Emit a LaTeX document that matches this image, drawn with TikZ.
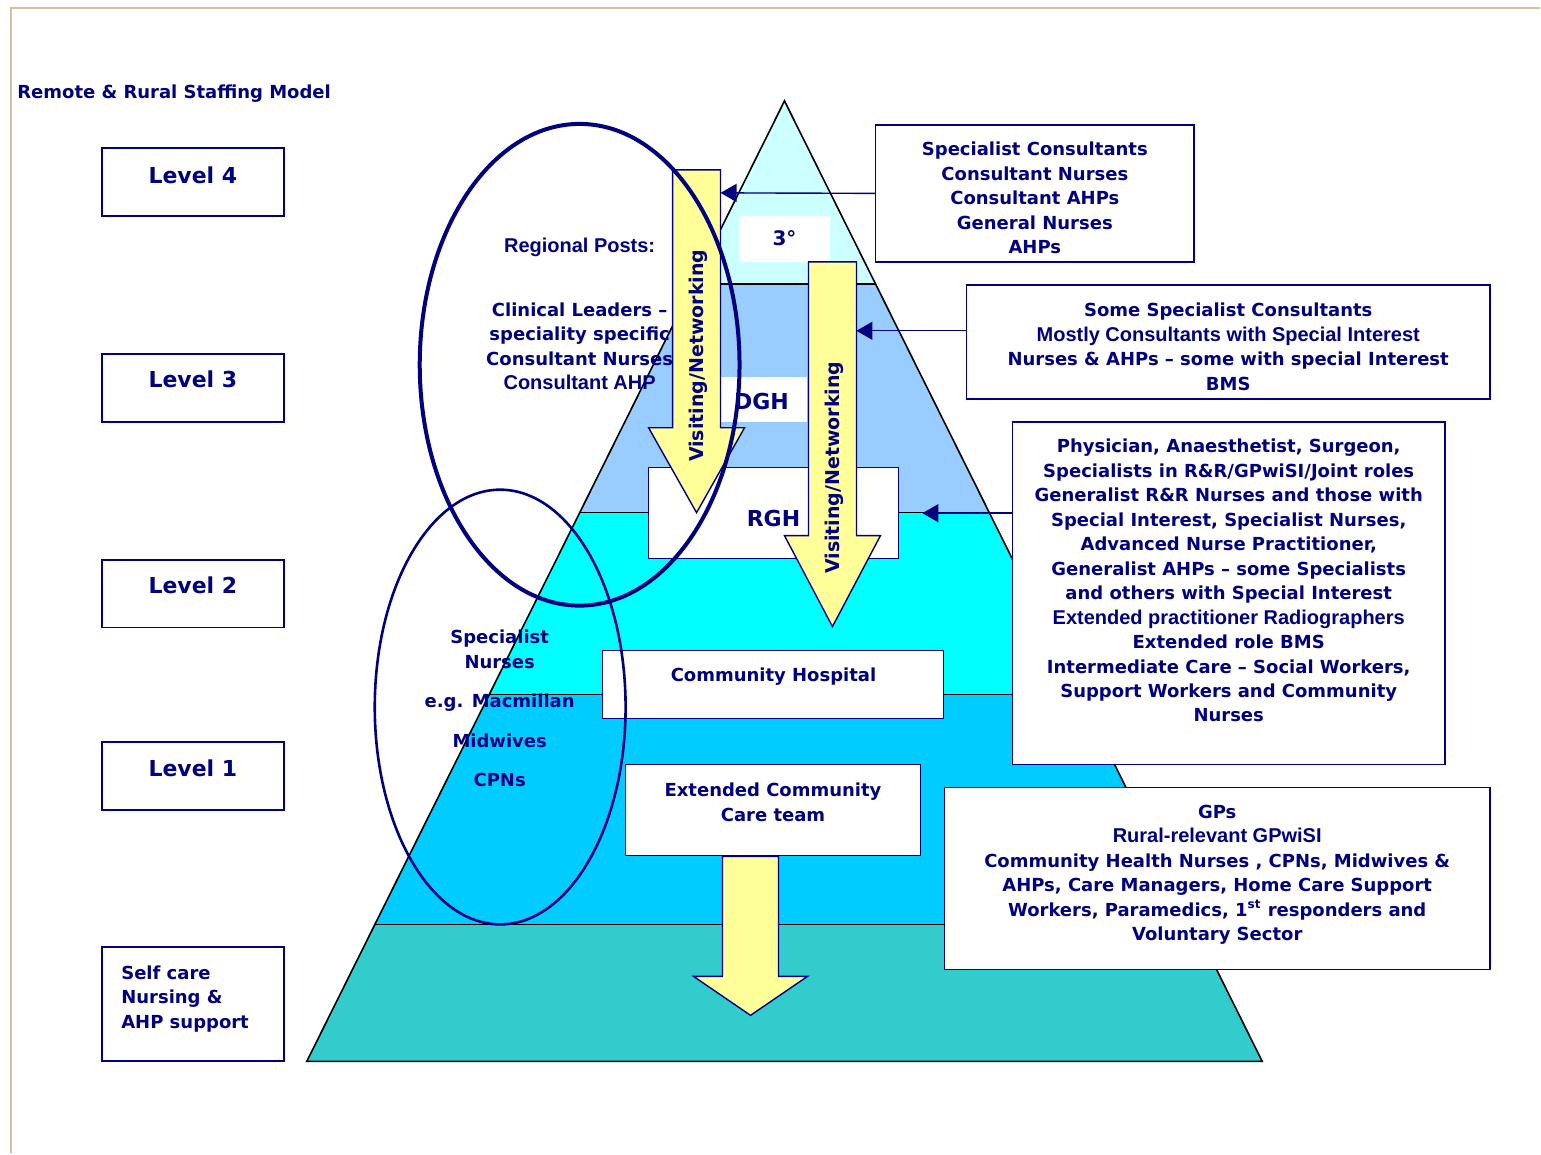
\documentclass[tikz,border=0pt]{standalone}
\usepackage{fontspec}
\setmainfont{DejaVu Sans}
\newfontfamily\arialfont{Liberation Sans}
\usetikzlibrary{arrows.meta}
\definecolor{navy}{RGB}{0,0,128}
\definecolor{framebeige}{RGB}{204,196,160}
\definecolor{bandone}{RGB}{204,255,255}
\definecolor{bandtwo}{RGB}{153,204,255}
\definecolor{bandthree}{RGB}{0,255,255}
\definecolor{bandfour}{RGB}{0,204,255}
\definecolor{bandfive}{RGB}{51,204,204}
\definecolor{paleyellow}{RGB}{255,255,153}
\begin{document}
\begin{tikzpicture}
        [x=0.5pt, y=-0.5pt,
        lvlbox/.style={draw=navy, line width=0.9pt, fill=white, minimum width=91pt, minimum height=34pt, inner sep=0pt, outer sep=0pt},
        infobox/.style={draw=navy, line width=0.8pt, fill=white, inner sep=0pt, outer sep=0pt},
        whitebox/.style={fill=white, inner sep=0pt, outer sep=0pt},
        txt/.style={text=navy, font=\bfseries\fontsize{9}{12.25}\selectfont, align=center, inner sep=0pt},
        arialtxt/.style={text=navy, font=\arialfont\bfseries\fontsize{10}{12.25}\selectfont, align=center, inner sep=0pt},
        bigtxt/.style={text=navy, font=\bfseries\fontsize{11}{13}\selectfont, inner sep=0pt},
        fatarrow/.style={draw=navy, line width=0.7pt, fill=paleyellow, line join=miter},
        conn/.style={draw=navy, line width=0.7pt, -{Triangle[length=8pt, width=9pt]}}]
        \path[fill=white] (0,0) rectangle (1541,1154);
        \draw[framebeige, line width=1pt] (11,1154) -- (11,8) -- (1541,8);
        \node[txt, anchor=west] (title) at (17,94) {Remote \& Rural Staffing Model};

        % pyramid
        \begin{scope}
            \clip (785,101) -- (1263,1062) -- (307,1062) -- cycle;
            \fill[bandone] (300,95) rectangle (1270,284);
            \fill[bandtwo] (300,284) rectangle (1270,513);
            \fill[bandthree] (300,513) rectangle (1270,695);
            \fill[bandfour] (300,695) rectangle (1270,925);
            \fill[bandfive] (300,925) rectangle (1270,1070);
            \draw[line width=0.8pt] (300,284) -- (1270,284);
            \draw[line width=0.8pt] (300,513) -- (1270,513);
            \draw[line width=0.8pt] (300,695) -- (1270,695);
            \draw[line width=0.8pt] (300,925) -- (1270,925);
        \end{scope}
        \draw[line width=0.8pt] (785,101) -- (1263,1062) -- (307,1062) -- cycle;

        \node[whitebox, minimum width=46pt, minimum height=23pt] (tert) at (785,239) {};
        \node[bigtxt, font=\bfseries\fontsize{10}{12}\selectfont] (terttxt) at (785,238) {3°};
        \node[whitebox, minimum width=44pt, minimum height=22.5pt] (dgh) at (764,400) {};
        \node[bigtxt] (dghtxt) at (762,402) {DGH};
        \node[infobox, minimum width=125pt, minimum height=45.5pt] (rgh) at (774,513.5) {};
        \node[bigtxt] (rghtxt) at (774,519) {RGH};
        \node[infobox, minimum width=170.5pt, minimum height=34pt] (commhosp) at (773.5,685) {};
        \node[txt] (commhosptxt) at (774,677) {Community Hospital};
        \node[infobox, minimum width=147.5pt, minimum height=45.5pt] (extcomm) at (773.5,810.5) {};
        \node[txt] (extcommtxt) at (773.5,803) {Extended Community\\Care team};

        % levels
        \node[lvlbox] (lvlfour) at (193,182) {};
        \node[bigtxt] (lvlfourtxt) at (193,175) {Level 4};
        \node[lvlbox] (lvlthree) at (193,388) {};
        \node[bigtxt] (lvlthreetxt) at (193,380) {Level 3};
        \node[lvlbox] (lvltwo) at (193,594) {};
        \node[bigtxt] (lvltwotxt) at (193,586) {Level 2};
        \node[lvlbox] (lvlone) at (193,776.5) {};
        \node[bigtxt] (lvlonetxt) at (193,769) {Level 1};
        \node[lvlbox, minimum height=57pt] (selfcare) at (193,1005) {};
        \node[txt, anchor=west, align=left] (selfcaretxt) at (121,999.5) {Self care\\Nursing \&\\AHP support};

        % staff boxes
        \node[infobox, minimum width=159.5pt, minimum height=68.5pt] (specA) at (1035.5,193.5) {};
        \node[txt] (specAtxt) at (1035.5,198) {Specialist Consultants\\Consultant Nurses\\Consultant AHPs\\General Nurses\\AHPs};
        \node[infobox, minimum width=262pt, minimum height=57pt] (specB) at (1229,342) {};
        \node[txt] (specBtxt) at (1229,347) {Some Specialist Consultants\\
            {\arialfont\fontsize{10}{12.25}\selectfont Mostly Consultants with Special Interest}\\
            Nurses \& AHPs – some with special Interest\\BMS};
        \node[infobox, minimum width=216.5pt, minimum height=171.5pt] (specC) at (1229.5,593.5) {};
        \node[txt] (specCtxt) at (1229.5,581) {Physician, Anaesthetist, Surgeon,\\
            Specialists in R\&R/GPwiSI/Joint roles\\
            Generalist R\&R Nurses and those with\\
            Special Interest, Specialist Nurses,\\
            Advanced Nurse Practitioner,\\
            Generalist AHPs – some Specialists\\
            and others with Special Interest\\
            {\arialfont\fontsize{10}{12.25}\selectfont Extended practitioner Radiographers}\hspace*{20pt}\\
            Extended role BMS\\
            Intermediate Care – Social Workers,\\
            Support Workers and Community\\
            Nurses};
        \node[infobox, minimum width=273pt, minimum height=91pt] (specD) at (1218,879) {};
        \node[txt] (specDtxt) at (1218,875.5) {GPs\\
            {\arialfont\fontsize{10}{12.25}\selectfont Rural-relevant GPwiSI}\\
            Community Health Nurses , CPNs, Midwives \&\\
            AHPs, Care Managers, Home Care Support\\
            Workers, Paramedics, 1\textsuperscript{st} responders and\\
            Voluntary Sector};

        % ellipse texts
        \node[arialtxt] (regional) at (580,248) {Regional Posts:};
        \node[txt] (clinical) at (580,346.5) {Clinical Leaders –\\speciality specific\\Consultant Nurses\\
            {\arialfont\fontsize{10}{12.25}\selectfont Consultant AHP}};
        \node[txt] (specnurses) at (500,709) {Specialist\\Nurses\\[7.5pt]e.g. Macmillan\\[7.5pt]Midwives\\[7.5pt]CPNs};

        % visiting arrows
        \draw[fatarrow] (673,170) -- (721,170) -- (721,428) -- (745,428) -- (697,513) -- (649,428) -- (673,428) -- cycle;
        \node[txt, rotate=90, font=\bfseries\fontsize{9.5}{12}\selectfont] (visitone) at (699,356) {Visiting/Networking};
        \draw[fatarrow] (809,262) -- (857,262) -- (857,536) -- (881,536) -- (833,627) -- (785,536) -- (809,536) -- cycle;
        \node[txt, rotate=90, font=\bfseries\fontsize{9.5}{12}\selectfont] (visittwo) at (835,468) {Visiting/Networking};
        \draw[fatarrow] (723,857) -- (779,857) -- (779,977) -- (808,977) -- (751,1016) -- (694,977) -- (723,977) -- cycle;

        \coordinate (visittop) at (721,193);
        \coordinate (visitmid) at (857,331);
        \draw[conn] (specA.west) -- (visittop);
        \draw[conn] (specB.west |- visitmid) -- (visitmid);
        \draw[conn, shorten >=12pt] (specC.west |- rgh.east) -- (rgh.east);

        % rings
        \draw[navy, line width=2pt] (580,365) ellipse [x radius=80pt, y radius=120.5pt];
        \draw[navy, line width=1.3pt] (500.5,707.5) ellipse [x radius=62.75pt, y radius=108.75pt];
    \end{tikzpicture}
\end{document}
